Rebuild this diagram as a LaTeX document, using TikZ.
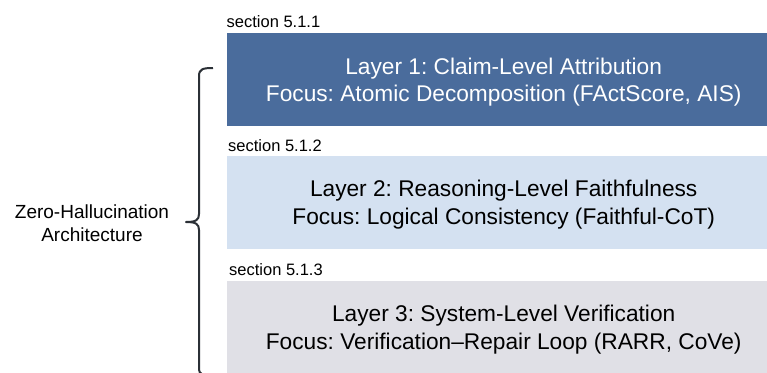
\documentclass[tikz,border=0pt]{standalone}
\usepackage{fontspec}
\setmainfont{Liberation Sans}
\frenchspacing
\definecolor{layerone}{RGB}{74,108,156}
\definecolor{layertwo}{RGB}{212,225,241}
\definecolor{layerthree}{RGB}{224,224,230}
\definecolor{bracecol}{RGB}{43,48,54}
\tikzset{
  layerbox/.style={draw=none, anchor=north west, minimum width=554pt,
    minimum height=93pt, inner sep=0pt},
  layertext/.style={inner sep=0pt, align=center,
    font=\fontsize{22.7}{27.5}\selectfont},
  seclabel/.style={anchor=base west, inner sep=0pt,
    font=\fontsize{16.5}{19}\selectfont},
  archlabel/.style={align=center, inner sep=0pt,
    font=\fontsize{19}{23.4}\selectfont},
  bracepath/.style={draw=bracecol, line width=2pt, line cap=butt, line join=round}
}
\begin{document}
\begin{tikzpicture}[x=1pt, y=-1pt]
\useasboundingbox (0,0) rectangle (767,372);
\begin{scope}
\clip (0,0) rectangle (767,372);

% the three layers
\node[layerbox, fill=layerone] (l1) at (226.5,33) {};
\node[layerbox, fill=layertwo] (l2) at (226.5,155.5) {};
\node[layerbox, fill=layerthree] (l3) at (226.5,280.5) {};

\node[layertext, text=white] (t1) at ([yshift=-2.5pt]l1.center)
  {Layer 1: Claim-Level Attribution\\Focus: Atomic Decomposition (FActScore, AIS)};
\node[layertext] (t2) at ([yshift=-2.5pt]l2.center)
  {Layer 2: Reasoning-Level Faithfulness\\Focus: Logical Consistency (Faithful-CoT)};
\node[layertext] (t3) at ([yshift=-2.5pt]l3.center)
  {Layer 3: System-Level Verification\\Focus: Verification--Repair Loop (RARR, CoVe)};

% section tags above each layer
\node[seclabel] (s1) at (226.5,27) {section 5.1.1};
\node[seclabel] (s2) at (228,151) {section 5.1.2};
\node[seclabel] (s3) at (229,275) {section 5.1.3};

% left curly brace grouping the layers
\coordinate (btop) at (213,68);
\coordinate (btip) at (186,222);
\coordinate (bbot) at (213,376);
\draw[bracepath] (btop) .. controls (203,68) and (199,69) .. (199,76)
  -- (199,214) .. controls (199,220) and (196,222) .. (btip)
  .. controls (196,222) and (199,224) .. (199,230)
  -- (199,368) .. controls (199,375) and (203,376) .. (bbot);
\end{scope}

\node[archlabel] (arch) at (92,223) {Zero-Hallucination\\Architecture};
\end{tikzpicture}
\end{document}
